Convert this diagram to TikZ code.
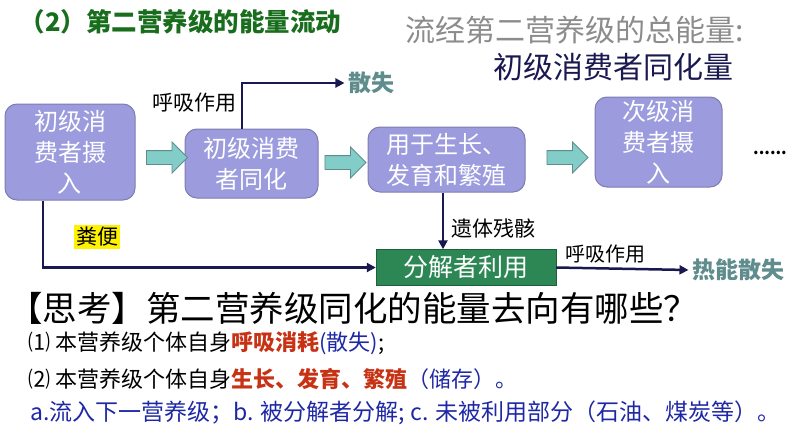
\documentclass[tikz,border=0pt]{standalone}
\usepackage{fontspec}
\setmainfont{Noto Sans CJK SC}
\usetikzlibrary{shapes.arrows,arrows.meta}
\definecolor{boxfill}{RGB}{155,155,222}
\definecolor{boxline}{RGB}{125,125,175}
\definecolor{tealfill}{RGB}{130,205,200}
\definecolor{tealline}{RGB}{95,140,140}
\definecolor{decgreen}{RGB}{45,135,85}
\definecolor{navy}{RGB}{25,25,80}
\definecolor{lossc}{RGB}{95,140,140}
\definecolor{titlegreen}{RGB}{25,110,30}
\definecolor{redc}{RGB}{200,50,20}
\definecolor{bluec}{RGB}{30,40,165}

\begin{document}
\begin{tikzpicture}[x=1pt,y=-1pt,
  box/.style={draw=boxline,fill=boxfill,line width=1pt,rounded corners=12pt,text=white,align=center,font=\fontsize{24}{31}\selectfont,inner sep=0pt},
  fat/.style={single arrow,draw=tealline,fill=tealfill,line width=0.8pt,minimum height=41pt,inner sep=6.5pt,inner xsep=0pt,single arrow head extend=8.5pt},
  flow/.style={navy,line width=2.5pt,-{Triangle[length=9pt,width=9pt]}},
  lbl/.style={font=\fontsize{21}{25}\selectfont},
  loss/.style={text=lossc,font=\fontsize{23}{27}\selectfont\bfseries}]
  \useasboundingbox (0,0) rectangle (794,447);

  % titles
  \node[anchor=west,text=titlegreen,font=\fontsize{25.5}{25}\selectfont\bfseries] (title) at (16,22) {（2）第二营养级的能量流动};
  \node[anchor=west,text=gray!90,font=\fontsize{30}{30}\selectfont] (total) at (402,30) {流经第二营养级的总能量:};
  \node[anchor=west,text=navy,font=\fontsize{30}{30}\selectfont] (totalval) at (490,67) {初级消费者同化量};

  % chain of boxes
  \node[box,minimum width=130pt,minimum height=96pt] (eat1) at (70,152) {初级消\\费者摄\\入};
  \node[box,minimum width=133pt,minimum height=69pt] (assim) at (251.5,163.5) {初级消费\\者同化};
  \node[box,minimum width=157pt,minimum height=65pt] (grow) at (446.5,159.5) {用于生长、\\发育和繁殖};
  \node[box,minimum width=127pt,minimum height=90pt] (eat2) at (658.5,142) {次级消\\费者摄\\入};
  \node[fat] (f1) at (163.5,157.5) {};
  \node[fat] (f2) at (342,162.5) {};
  \node[fat] (f3) at (564,157.5) {};
  \node[font=\fontsize{16}{16}\selectfont\bfseries] (dots) at (770,153) {......};

  \node[draw=decgreen!70!black,fill=decgreen,text=white,minimum width=180pt,minimum height=36pt,font=\fontsize{25}{25}\selectfont] (dec) at (466,267.5) {分解者利用};
  \node[loss] (lost) at (371,83) {散失};
  \node[loss] (heat) at (738,270) {热能散失};

  % flows
  \draw[flow] ([xshift=-9.5pt]assim.north) |- (lost.west);
  \draw[flow] ([xshift=-27pt]eat1.south) |- (dec.west);
  \draw[flow] ([xshift=-3.5pt]grow.south) -- ([xshift=-3.5pt]grow.south |- dec.north);
  \draw[flow] (dec.east) -- (heat.west);

  \node[lbl] (resp1) at (194,103) {呼吸作用};
  \node[lbl,fill=yellow,inner sep=2pt] (feces) at (97,237) {粪便};
  \node[lbl,anchor=west] (remain) at (448,228) {遗体残骸};
  \node[lbl,font=\fontsize{20}{24}\selectfont] (resp2) at (605,254) {呼吸作用};

  % question
  \node[anchor=west,inner sep=0pt,font=\fontsize{34.5}{34}\selectfont] (think) at (8,308) {【思考】第二营养级同化的能量去向有哪些？};
  \node[anchor=west,inner sep=0pt,font=\fontsize{22}{22}\selectfont] (ans1) at (28,343) {⑴ 本营养级个体自身\textcolor{redc}{\bfseries 呼吸消耗}\textcolor{bluec}{(散失)};};
  \node[anchor=west,inner sep=0pt,font=\fontsize{22}{22}\selectfont] (ans2) at (28,379) {⑵ 本营养级个体自身\textcolor{redc}{\bfseries 生长、发育、繁殖}\textcolor{bluec}{（储存）。}};
  \node[anchor=west,inner sep=0pt,text=bluec,font=\fontsize{23}{23}\selectfont] (ans3) at (30,413) {a.流入下一营养级；b. 被分解者分解; c. 未被利用部分（石油、煤炭等）。};
\end{tikzpicture}
\end{document}
